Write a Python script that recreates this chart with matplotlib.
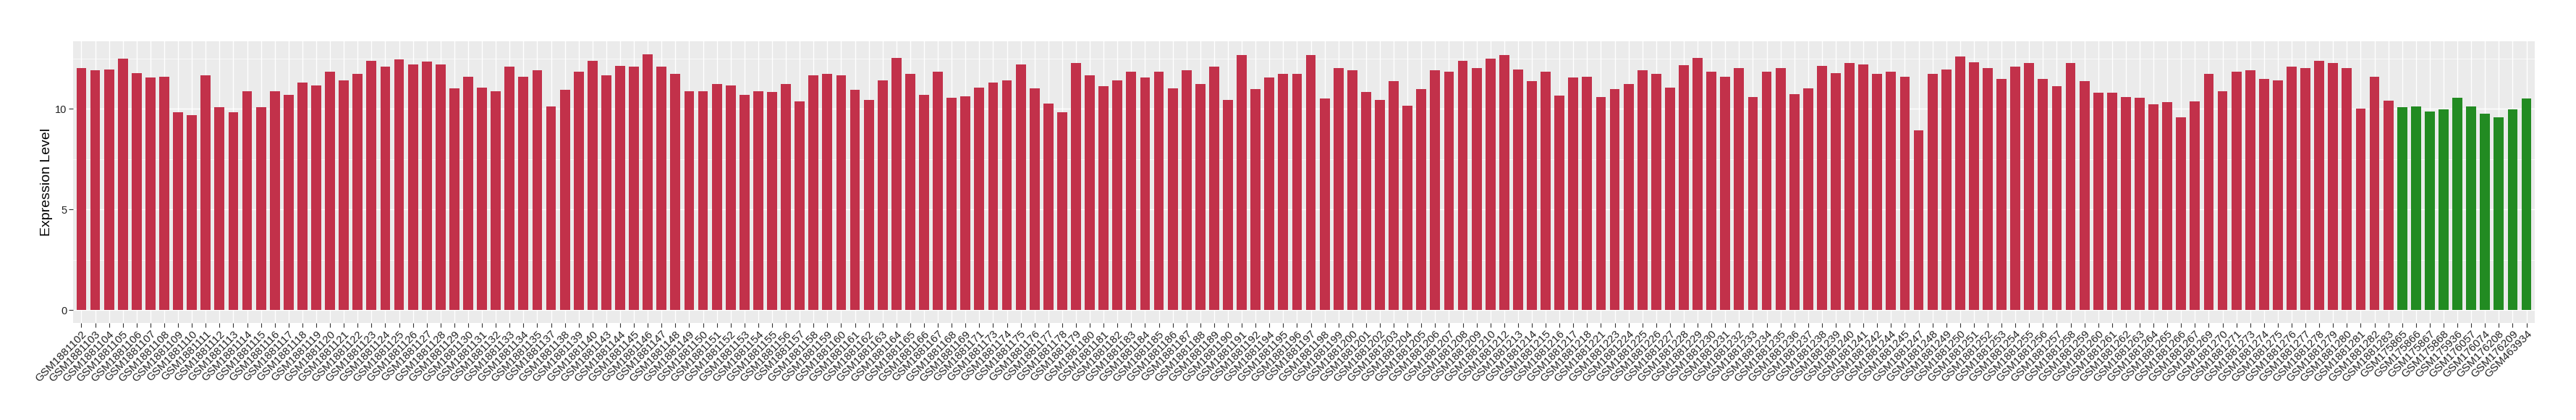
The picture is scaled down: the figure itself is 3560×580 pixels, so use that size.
import numpy as np
import matplotlib
matplotlib.use('Agg')
import matplotlib.pyplot as plt

plt.rcParams['font.family'] = ['Liberation Sans', 'DejaVu Sans']

# tumour samples (red)
red_ids = list(range(1881102, 1881136)) + [1881137, 1881138, 1881139, 1881140] \
    + list(range(1881143, 1881170)) + [1881171] + list(range(1881173, 1881193)) \
    + list(range(1881194, 1881211)) + list(range(1881212, 1881219)) + [1881221] \
    + list(range(1881223, 1881243)) + [1881244, 1881245] + list(range(1881247, 1881268)) \
    + [1881269, 1881270, 1881271] + list(range(1881273, 1881284))

red_vals = [
    12.03, 11.92, 11.96, 12.50, 11.78, 11.53, 11.60, 9.81, 9.67, 11.67,
    10.06, 9.81, 10.88, 10.06, 10.88, 10.70, 11.28, 11.14, 11.82, 11.39,
    11.71, 12.39, 12.10, 12.43, 12.21, 12.35, 12.21, 10.99, 11.60, 11.03,
    10.88, 12.07, 11.60, 11.92,
    10.10, 10.92, 11.85, 12.39,
    11.67, 12.14, 12.10, 12.71, 12.07, 11.74, 10.85, 10.85, 11.24, 11.14,
    10.67, 10.85, 10.81, 11.24, 10.35, 11.64, 11.74, 11.64, 10.92, 10.42,
    11.39, 12.53, 11.71, 10.67, 11.82, 10.53, 10.60,
    11.03,
    11.31, 11.42, 12.21, 10.99, 10.27, 9.81, 12.28, 11.64, 11.10, 11.42,
    11.82, 11.53, 11.82, 10.99, 11.92, 11.24, 12.07, 10.45, 12.68, 10.96,
    11.53, 11.74, 11.74, 12.68, 10.49, 12.00, 11.89, 10.81, 10.45, 11.35,
    10.13, 10.96, 11.89, 11.82, 12.39, 12.03, 12.50,
    12.68, 11.96, 11.35, 11.85, 10.63, 11.53, 11.60,
    10.56,
    10.96, 11.21, 11.92, 11.71, 11.03, 12.17, 12.53, 11.82, 11.60, 12.00,
    10.56, 11.82, 12.00, 10.71, 10.99, 12.14, 11.78, 12.28, 12.21, 11.71,
    11.85, 11.57,
    8.91, 11.71, 11.96, 12.60, 12.32, 12.00, 11.49, 12.10, 12.25, 11.46,
    11.10, 12.25, 11.35, 10.78, 10.78, 10.56, 10.53, 10.20, 10.31, 9.56,
    10.35,
    11.74, 10.88, 11.82,
    11.89, 11.46, 11.39, 12.07, 12.03, 12.39, 12.25, 12.00, 9.99, 11.60,
    10.38,
]

# normal samples (green)
green_ids = [175865, 175866, 175867, 175868, 175936, 176057, 176074, 176208, 176209, 463934]
green_vals = [10.06, 10.10, 9.84, 9.95, 10.53, 10.10, 9.74, 9.56, 9.95, 10.49]

labels = ['GSM%d' % i for i in red_ids + green_ids]
values = np.array(red_vals + green_vals)
colors = ['#C2314A'] * len(red_vals) + ['#228B22'] * len(green_vals)
n = len(values)
x = np.arange(n)

fig = plt.figure(figsize=(35.6, 5.8), dpi=100)
ax = fig.add_axes([101 / 3560, 134.3 / 580, 3402 / 3560, 388.7 / 580])
ax.set_facecolor('#EBEBEB')

ymax = values.max()
ax.set_ylim(-0.05 * ymax, 1.05 * ymax)
ax.set_xlim(-0.6, n - 1 + 0.6)

ax.set_yticks([0, 5, 10])
ax.set_yticks([2.5, 7.5, 12.5], minor=True)
ax.set_xticks(x)
ax.set_xticklabels(labels, rotation=45, ha='right', va='top', rotation_mode='anchor')

ax.grid(which='major', color='white', linewidth=1.0)
ax.grid(which='minor', axis='y', color='white', linewidth=0.5)
ax.set_axisbelow(True)

ax.bar(x, values, width=0.72, color=colors, zorder=2)

for s in ax.spines.values():
    s.set_visible(False)

ax.tick_params(axis='both', which='major', length=4, width=0.8, color='#333333',
               labelcolor='#222222', pad=2)
ax.tick_params(axis='x', labelsize=11)
ax.tick_params(axis='y', labelsize=10.5)
ax.tick_params(which='minor', length=0)

ax.set_ylabel('Expression Level', fontsize=14, color='black')
ax.yaxis.set_label_coords(-28 / 3402, 0.5)

fig.savefig('out.png', dpi=100)
